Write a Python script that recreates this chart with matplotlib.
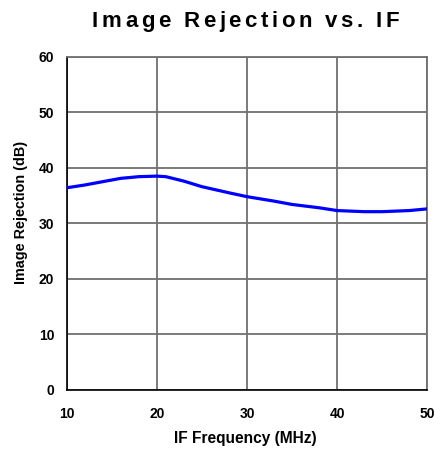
import matplotlib
matplotlib.use("Agg")
import matplotlib.pyplot as plt
from matplotlib.font_manager import FontProperties

# IF frequency (MHz) vs image rejection (dB)
if_freq = [10, 12, 14, 16, 18, 20, 21, 23, 25, 28, 30, 33, 35, 38, 40, 43, 45, 48, 50]
rejection = [36.4, 36.9, 37.5, 38.1, 38.4, 38.5, 38.4, 37.6, 36.6, 35.5, 34.8, 34.0, 33.4, 32.8, 32.3, 32.1, 32.1, 32.3, 32.6]

x_ticks = [10, 20, 30, 40, 50]
y_ticks = [0, 10, 20, 30, 40, 50, 60]
title = 'Image Rejection vs. IF'

plt.rcParams['font.family'] = ['Liberation Sans', 'DejaVu Sans']
plt.rcParams['font.weight'] = 'bold'

W, H = 435, 451
fig = plt.figure(figsize=(W / 100, H / 100), dpi=100)
ax = fig.add_axes([0.1533, 0.1353, 0.829, 0.739])

ax.plot(if_freq, rejection, color='#0000ff', linewidth=2.3, zorder=3)

ax.set_xlim(10, 50)
ax.set_ylim(0, 60)
ax.set_xticks(x_ticks)
ax.set_yticks(y_ticks)
ax.grid(True, color='#707070', linewidth=1.3)
ax.tick_params(length=0, labelsize=10)
ax.tick_params(axis='x', pad=12)
ax.tick_params(axis='y', pad=9)
for lbl in ax.get_xticklabels() + ax.get_yticklabels():
    lbl.set_fontweight('bold')

for side in ['top', 'right']:
    ax.spines[side].set_color('#707070')
    ax.spines[side].set_linewidth(1.3)
for side in ['left', 'bottom']:
    ax.spines[side].set_color('black')
    ax.spines[side].set_linewidth(1.2)

ax.set_xlabel('IF Frequency (MHz)', fontsize=11.2, fontweight='bold', va='center')
ax.xaxis.set_label_coords(0.496, -0.147)
ax.set_ylabel('Image Rejection (dB)', fontsize=10.4, fontweight='bold', va='center')
ax.yaxis.set_label_coords(-0.127, 0.534)

# title is letter-spaced in the original: place it char by char
fp = FontProperties(family='Liberation Sans', weight='bold', size=16)
r = fig.canvas.get_renderer()
def width(s):
    return r.get_text_width_height_descent(s, fp, ismath=False)[0] if s else 0.0
x0, x1 = 92, 399
extra = (x1 - x0 - width(title)) / (len(title) - 1)
for i, ch in enumerate(title):
    px = x0 + width(title[:i]) + i * extra
    fig.text(px / W, 1 - 27 / H, ch, ha='left', va='baseline', fontproperties=fp)

fig.savefig('out.png', dpi=100)
